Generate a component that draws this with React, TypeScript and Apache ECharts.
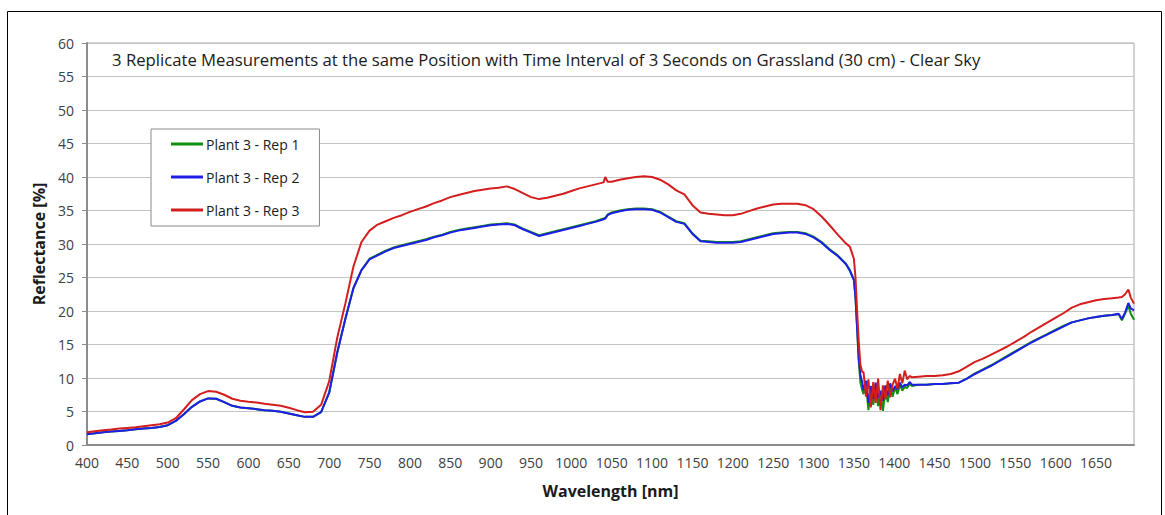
import React, { useEffect, useRef } from "react";
import * as echarts from "echarts";

// Wavelength samples [nm]
const wavelengths = [
  400, 410, 420, 430, 440, 450, 460, 470, 480, 490, 500, 510, 520, 530, 540, 550,
  560, 570, 580, 590, 600, 610, 620, 630, 640, 650, 660, 670, 680, 690, 700,
  710, 720, 730, 740, 750, 760, 770, 780, 790, 800, 810, 820, 830, 840, 850, 860,
  870, 880, 890, 900,
  910, 920, 930, 940, 950, 960, 970, 980, 990, 1000, 1010, 1020, 1030, 1040, 1042,
  1045, 1050, 1060, 1070, 1080, 1090, 1100, 1110, 1120, 1130, 1140, 1150, 1160,
  1170, 1180, 1190, 1200, 1210, 1220, 1230, 1240, 1250, 1260, 1270, 1280, 1290,
  1300, 1310, 1320, 1330, 1340, 1345, 1350,
  1352, 1354, 1356, 1358, 1360,
  1362, 1365, 1368, 1371, 1374, 1377, 1380, 1383, 1386, 1389, 1392, 1395, 1398,
  1401, 1404, 1407, 1410, 1413, 1416, 1419, 1422,
  1430, 1440, 1450, 1460, 1470, 1480, 1490, 1500, 1510, 1520, 1530, 1540, 1550,
  1560, 1570, 1580, 1590, 1600, 1610, 1620, 1630, 1640, 1650, 1660, 1670, 1678,
  1682, 1686, 1690, 1693, 1697,
];

// Reflectance [%], Plant 3 - Rep 1
const rep1 = [
  1.6, 1.75, 1.9, 2.0, 2.1, 2.2, 2.35, 2.45, 2.55, 2.7, 2.95, 3.6, 4.6, 5.7, 6.5, 6.95,
  6.9, 6.4, 5.85, 5.6, 5.5, 5.35, 5.2, 5.1, 4.95, 4.7, 4.45, 4.2, 4.2, 4.9, 7.8,
  13.8, 18.8, 23.4, 26.1, 27.8, 28.4, 29.0, 29.5, 29.8, 30.1, 30.4, 30.7, 31.1, 31.4,
  31.8, 32.1, 32.3, 32.5, 32.7, 32.9,
  33.0, 33.1, 32.9, 32.3, 31.8, 31.3, 31.6, 31.9, 32.2, 32.5, 32.8, 33.1, 33.4, 33.8,
  33.9, 34.4, 34.7, 35.0, 35.2, 35.3, 35.3, 35.2, 34.8, 34.1, 33.4, 33.1, 31.6, 30.5,
  30.4, 30.3, 30.3, 30.3, 30.4, 30.7, 31.0, 31.3, 31.6, 31.7, 31.8, 31.8, 31.6,
  31.1, 30.3, 29.2, 28.3, 27.1, 26.1, 24.7,
  22.1, 17.4, 12.6, 9.4, 8.3,
  7.6, 9.1, 5.2, 8.4, 6.0, 8.6, 5.8, 7.9, 5.1, 8.2, 6.4, 8.7, 7.2,
  8.6, 7.6, 9.0, 8.1, 8.7, 8.5, 9.1, 8.8,
  9.0, 9.0, 9.1, 9.1, 9.2, 9.3, 9.9, 10.7, 11.3, 11.9, 12.6, 13.3, 14.0,
  14.7, 15.4, 16.0, 16.6, 17.2, 17.8, 18.3, 18.6, 18.9, 19.1, 19.3, 19.4, 19.5,
  18.6, 19.6, 20.8, 19.6, 18.7,
];

// Reflectance [%], Plant 3 - Rep 2
const rep2 = [
  1.6, 1.75, 1.9, 2.0, 2.1, 2.2, 2.35, 2.45, 2.55, 2.7, 2.95, 3.6, 4.6, 5.7, 6.5, 6.95,
  6.9, 6.4, 5.85, 5.6, 5.5, 5.35, 5.2, 5.1, 4.95, 4.7, 4.45, 4.2, 4.2, 4.9, 7.8,
  13.8, 18.8, 23.4, 26.1, 27.7, 28.3, 28.9, 29.4, 29.7, 30.0, 30.3, 30.6, 31.0, 31.3,
  31.7, 32.0, 32.2, 32.4, 32.6, 32.8,
  32.9, 33.0, 32.8, 32.2, 31.7, 31.2, 31.5, 31.8, 32.1, 32.4, 32.7, 33.0, 33.3, 33.7,
  33.8, 34.3, 34.6, 34.9, 35.1, 35.2, 35.2, 35.1, 34.7, 34.0, 33.3, 33.0, 31.5, 30.4,
  30.3, 30.2, 30.2, 30.2, 30.3, 30.6, 30.9, 31.2, 31.5, 31.6, 31.7, 31.7, 31.5,
  31.0, 30.2, 29.1, 28.2, 27.0, 26.0, 24.6,
  22.0, 17.5, 13.0, 10.5, 9.5,
  8.2, 9.6, 6.3, 8.8, 6.9, 9.3, 7.0, 8.1, 6.6, 8.9, 7.4, 9.2, 8.0,
  8.8, 8.3, 9.3, 8.6, 9.0, 8.9, 9.4, 9.0,
  9.0, 9.0, 9.1, 9.1, 9.2, 9.3, 9.9, 10.6, 11.2, 11.8, 12.5, 13.2, 13.9,
  14.6, 15.3, 15.9, 16.5, 17.1, 17.7, 18.3, 18.6, 18.9, 19.1, 19.3, 19.4, 19.6,
  18.8, 19.8, 21.2, 20.4, 20.1,
];

// Reflectance [%], Plant 3 - Rep 3
const rep3 = [
  1.9, 2.05, 2.2, 2.3, 2.45, 2.55, 2.65, 2.8, 2.95, 3.1, 3.35, 4.0, 5.3, 6.7, 7.6, 8.05,
  7.95, 7.5, 6.9, 6.6, 6.45, 6.35, 6.15, 6.0, 5.85, 5.55, 5.2, 4.9, 4.95, 6.0, 9.5,
  16.0, 21.1, 26.6, 30.3, 32.0, 32.9, 33.4, 33.9, 34.3, 34.8, 35.2, 35.6, 36.1, 36.5,
  37.0, 37.3, 37.6, 37.9, 38.1, 38.3,
  38.4, 38.6, 38.2, 37.6, 37.0, 36.7, 36.9, 37.2, 37.5, 37.9, 38.3, 38.6, 38.9, 39.2,
  40.0, 39.3, 39.3, 39.6, 39.8, 40.0, 40.1, 40.0, 39.6, 38.9, 38.0, 37.4, 35.8, 34.7,
  34.5, 34.4, 34.3, 34.3, 34.5, 34.9, 35.3, 35.6, 35.9, 36.0, 36.0, 36.0, 35.8,
  35.2, 34.1, 32.8, 31.4, 30.1, 29.6, 27.8,
  25.0, 20.0, 15.5, 12.0, 11.0,
  10.8, 7.2, 9.8, 5.6, 9.4, 6.3, 9.9, 5.2, 8.9, 6.8, 9.6, 7.1, 9.0,
  9.9, 8.4, 10.6, 9.2, 11.1, 9.8, 10.3, 10.1,
  10.2, 10.3, 10.3, 10.4, 10.6, 11.0, 11.7, 12.4, 12.9, 13.5, 14.1, 14.7, 15.4,
  16.1, 16.9, 17.6, 18.3, 19.0, 19.7, 20.5, 21.0, 21.3, 21.6, 21.8, 21.9, 22.0,
  22.1, 22.5, 23.2, 22.0, 21.1,
];

const seriesNames = ["Plant 3 - Rep 1", "Plant 3 - Rep 2", "Plant 3 - Rep 3"];
const seriesColors = ["#0f8f0f", "#1e1ee8", "#d41e1e"];
const seriesValues = [rep1, rep2, rep3];

const titleText =
  "3 Replicate Measurements at the same Position with Time Interval of 3 Seconds on Grassland (30 cm) - Clear Sky";

const FONT = "'Open Sans', 'Noto Sans', sans-serif";

export default function App() {
  const ref = useRef<HTMLDivElement>(null);

  useEffect(() => {
    if (!ref.current) return;
    const chart = echarts.init(ref.current, undefined, { renderer: "svg" });

    const series = seriesNames.map((name, k) => ({
      name,
      type: "line",
      data: wavelengths.map((w, i) => [w, seriesValues[k][i]]),
      showSymbol: false,
      symbol: "none",
      color: seriesColors[k],
      lineStyle: { width: 2, color: seriesColors[k] },
      z: 2 + k,
    }));

    chart.setOption({
      animation: false,
      backgroundColor: "#ffffff",
      textStyle: { fontFamily: FONT },
      title: {
        text: titleText,
        left: 107,
        top: 46,
        textStyle: { fontSize: 16.7, fontWeight: "normal", color: "#1a1a1a", fontFamily: FONT },
      },
      legend: {
        orient: "vertical",
        left: 151,
        top: 129,
        padding: [8, 20, 9, 20],
        itemGap: 19,
        itemWidth: 32,
        itemHeight: 3,
        icon: "rect",
        borderColor: "#8a8a8a",
        borderWidth: 1,
        backgroundColor: "#ffffff",
        textStyle: { fontSize: 14, color: "#1a1a1a", fontFamily: FONT, padding: [0, 0, 0, -2] },
        data: seriesNames,
      },
      grid: {
        left: 87,
        right: 31,
        top: 43,
        bottom: 70,
        show: true,
        borderColor: "#a6a6a6",
        borderWidth: 1,
      },
      xAxis: {
        type: "value",
        min: 400,
        max: 1697,
        interval: 50,
        name: "Wavelength [nm]",
        nameLocation: "middle",
        nameGap: 38,
        nameTextStyle: { fontSize: 16, fontWeight: "bold", color: "#1a1a1a", fontFamily: FONT },
        axisLine: { show: true, lineStyle: { color: "#8c8c8c", width: 2 } },
        axisTick: { show: false },
        splitLine: { show: false },
        axisLabel: {
          showMaxLabel: false,
          fontSize: 14,
          color: "#404040",
          margin: 10,
          fontFamily: FONT,
          formatter: (v: number) => (v % 50 === 0 ? String(v) : ""),
        },
      },
      yAxis: {
        type: "value",
        min: 0,
        max: 60,
        interval: 5,
        name: "Reflectance [%]",
        nameLocation: "middle",
        nameGap: 32,
        nameTextStyle: { fontSize: 16, fontWeight: "bold", color: "#1a1a1a", fontFamily: FONT },
        axisLine: { show: true, lineStyle: { color: "#8c8c8c", width: 2 } },
        axisTick: { show: true, length: 5, lineStyle: { color: "#8c8c8c", width: 1 } },
        splitLine: { show: true, lineStyle: { color: "#c4c4c4", width: 1 } },
        axisLabel: { fontSize: 14, color: "#404040", margin: 13, fontFamily: FONT },
      },
      graphic: [
        {
          type: "rect",
          silent: true,
          shape: { x: 7.5, y: 11.5, width: 1154, height: 520 },
          style: { fill: "none", stroke: "#000000", lineWidth: 1 },
          z: 100,
        },
      ],
      series,
    });

    return () => chart.dispose();
  }, []);

  return (
    <div
      ref={ref}
      style={{ position: "absolute", left: 0, top: 0, width: 1165, height: 515 }}
    />
  );
}
